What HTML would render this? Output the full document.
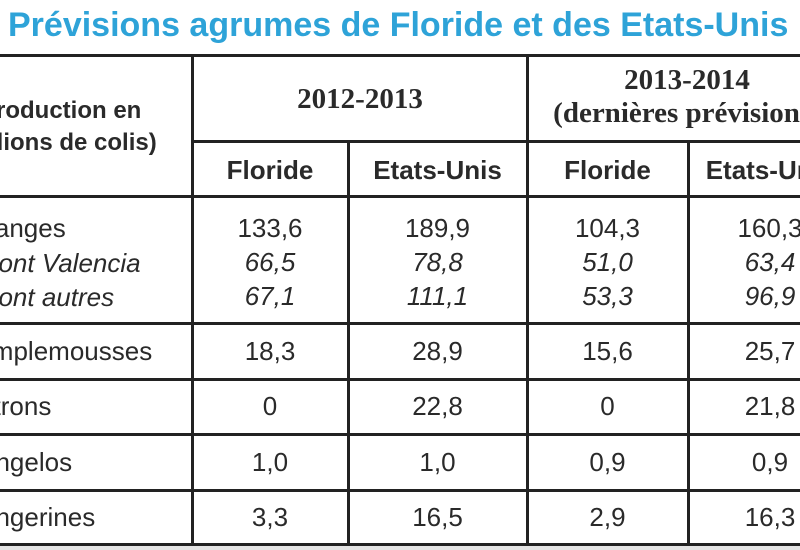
<!DOCTYPE html>
<html><head><meta charset="utf-8"><style>
html,body{margin:0;padding:0}
body{width:800px;height:550px;overflow:hidden;position:relative;background:#fff;font-family:"Liberation Sans",sans-serif;color:#2a2a2a}
.a{position:absolute;white-space:nowrap}
.ln{position:absolute;background:#222}
.c{position:absolute;text-align:center;white-space:nowrap;font-size:26px;line-height:34px}
.i{font-style:italic}
.h{font-weight:bold;font-size:26px}
.s{font-family:"Liberation Serif",serif;font-weight:bold;font-size:29px;line-height:33px}
.l{position:absolute;white-space:nowrap;font-size:26px;line-height:34px}
</style></head><body>
<div class="a" style="left:8px;top:5px;font-size:34px;font-weight:bold;color:#2ea3d8;line-height:40px">Prévisions agrumes de Floride et des Etats-Unis</div>
<div>
<div class="ln" style="left:0;top:54px;width:800px;height:3px"></div>
<div class="ln" style="left:192px;top:140px;width:608px;height:3px"></div>
<div class="ln" style="left:0;top:195px;width:800px;height:3px"></div>
<div class="ln" style="left:0;top:322px;width:800px;height:3px"></div>
<div class="ln" style="left:0;top:378px;width:800px;height:3px"></div>
<div class="ln" style="left:0;top:433px;width:800px;height:3px"></div>
<div class="ln" style="left:0;top:489px;width:800px;height:3px"></div>
<div class="ln" style="left:0;top:543px;width:800px;height:3px"></div>
<div class="ln" style="left:191px;top:54px;width:3px;height:492px"></div>
<div class="ln" style="left:347px;top:140px;width:3px;height:406px"></div>
<div class="ln" style="left:526px;top:54px;width:3px;height:492px"></div>
<div class="ln" style="left:687px;top:140px;width:3px;height:406px"></div>
<div style="position:absolute;left:0;top:546px;width:800px;height:4px;background:#e4e4e4"></div>

<div class="l" style="left:-28px;top:95px;font-weight:bold;font-size:24px;line-height:32px">(Production en<br><span style="margin-left:-18px">(millions de colis)</span></div>
<div class="c s" style="left:192px;width:336px;top:83px">2012-2013</div>
<div class="c s" style="left:527px;width:320px;top:64px">2013-2014<br>(dernières prévisions)</div>
<div class="c h" style="left:192px;width:156px;top:153px">Floride</div>
<div class="c h" style="left:348px;width:179px;top:153px">Etats-Unis</div>
<div class="c h" style="left:527px;width:161px;top:153px">Floride</div>
<div class="c h" style="left:688px;width:164px;top:153px">Etats-Unis</div>

<div class="l" style="left:-34px;top:211px">Oranges</div>
<div class="l i" style="left:-16px;top:246px">dont Valencia</div>
<div class="l i" style="left:-16px;top:280px">dont autres</div>
<div class="l" style="left:-40px;top:334px">Pamplemousses</div>
<div class="l" style="left:-31px;top:389px">Citrons</div>
<div class="l" style="left:-32px;top:445px">Tangelos</div>
<div class="l" style="left:-32px;top:500px">Tangerines</div>

<div class="c" style="left:192px;width:156px;top:211px">133,6<br><i>66,5</i><br><i>67,1</i></div>
<div class="c" style="left:348px;width:179px;top:211px">189,9<br><i>78,8</i><br><i>111,1</i></div>
<div class="c" style="left:527px;width:161px;top:211px">104,3<br><i>51,0</i><br><i>53,3</i></div>
<div class="c" style="left:688px;width:164px;top:211px">160,3<br><i>63,4</i><br><i>96,9</i></div>

<div class="c" style="left:192px;width:156px;top:334px">18,3</div>
<div class="c" style="left:348px;width:179px;top:334px">28,9</div>
<div class="c" style="left:527px;width:161px;top:334px">15,6</div>
<div class="c" style="left:688px;width:164px;top:334px">25,7</div>

<div class="c" style="left:192px;width:156px;top:389px">0</div>
<div class="c" style="left:348px;width:179px;top:389px">22,8</div>
<div class="c" style="left:527px;width:161px;top:389px">0</div>
<div class="c" style="left:688px;width:164px;top:389px">21,8</div>

<div class="c" style="left:192px;width:156px;top:445px">1,0</div>
<div class="c" style="left:348px;width:179px;top:445px">1,0</div>
<div class="c" style="left:527px;width:161px;top:445px">0,9</div>
<div class="c" style="left:688px;width:164px;top:445px">0,9</div>

<div class="c" style="left:192px;width:156px;top:500px">3,3</div>
<div class="c" style="left:348px;width:179px;top:500px">16,5</div>
<div class="c" style="left:527px;width:161px;top:500px">2,9</div>
<div class="c" style="left:688px;width:164px;top:500px">16,3</div>
</div>
</body></html>
